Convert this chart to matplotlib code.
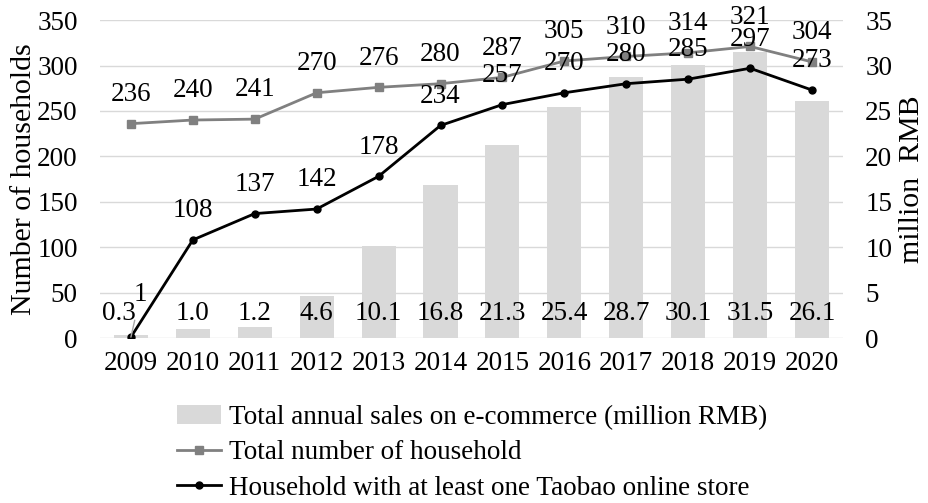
import numpy as np
import matplotlib
matplotlib.use('Agg')
import matplotlib.pyplot as plt

plt.rcParams['font.family'] = ['Liberation Serif', 'DejaVu Serif']

years = ['2009', '2010', '2011', '2012', '2013', '2014', '2015', '2016', '2017', '2018', '2019', '2020']
sales = [0.3, 1.0, 1.2, 4.6, 10.1, 16.8, 21.3, 25.4, 28.7, 30.1, 31.5, 26.1]  # million RMB
total_hh = [236, 240, 241, 270, 276, 280, 287, 305, 310, 314, 321, 304]
taobao_hh = [1, 108, 137, 142, 178, 234, 257, 270, 280, 285, 297, 273]

fs = 19.5
x = np.arange(len(years))

fig = plt.figure(figsize=(9.29, 5.03), dpi=100)
ax1 = fig.add_axes([0.1076, 0.328, 0.7998, 0.632])
ax2 = ax1.twinx()
ax1.set_zorder(ax2.get_zorder() + 1)
ax1.patch.set_visible(False)

# bars on right axis
bars = ax2.bar(x, sales, width=0.55, color='#d9d9d9', zorder=2,
               label='Total annual sales on e-commerce (million RMB)')
for xi, v in zip(x, sales):
    dx = -9 if xi == 0 else 0
    ax2.annotate('{:.1f}'.format(v), (xi, 2.75), xytext=(dx, 0), textcoords='offset points',
                 ha='center', va='center', fontsize=fs)

# lines on left axis
l1, = ax1.plot(x, total_hh, color='#808080', marker='s', markersize=6, lw=2,
               label='Total number of household')
l2, = ax1.plot(x, taobao_hh, color='black', marker='o', markersize=5, lw=2,
               label='Household with at least one Taobao online store')
for xi, v in zip(x, total_hh):
    ax1.annotate(str(v), (xi, v), xytext=(0, 21), textcoords='offset points',
                 ha='center', va='center', fontsize=fs)
for xi, v in zip(x, taobao_hh):
    if xi == 0:
        # label pulled away from the point, with a leader line
        ax1.annotate(str(v), (xi, v), xytext=(7, 31), textcoords='offset points',
                     ha='center', va='center', fontsize=fs,
                     arrowprops=dict(arrowstyle='-', color='#a6a6a6', lw=1,
                                     shrinkA=8, shrinkB=0))
    else:
        ax1.annotate(str(v), (xi, v), xytext=(0, 21), textcoords='offset points',
                     ha='center', va='center', fontsize=fs)

ax1.set_xlim(-0.5, len(years) - 0.5)
ax1.set_ylim(0, 350)
ax2.set_ylim(0, 35)
ax1.set_yticks(np.arange(0, 351, 50))
ax2.set_yticks(np.arange(0, 36, 5))
ax1.set_xticks(x)
ax1.set_xticklabels(years)

ax2.grid(axis='y', color='#d9d9d9', lw=1)
ax2.set_axisbelow(True)

for ax in (ax1, ax2):
    for s in ax.spines.values():
        s.set_visible(False)
    ax.tick_params(length=0, labelsize=fs)
ax1.tick_params(axis='y', pad=16)
ax2.tick_params(axis='y', pad=16)
ax1.tick_params(axis='x', pad=9)

ax1.set_ylabel('Number of households', fontsize=21.5, labelpad=0)
ax2.set_ylabel('million  RMB', fontsize=21.5, rotation=90, labelpad=5)

fig.legend(handles=[bars, l1, l2], loc='upper left', bbox_to_anchor=(0.19, 0.195),
           frameon=False, fontsize=fs, handlelength=1.65, handletextpad=0.3,
           labelspacing=0.38, borderaxespad=0, borderpad=0)

fig.savefig('out.png', dpi=100)
